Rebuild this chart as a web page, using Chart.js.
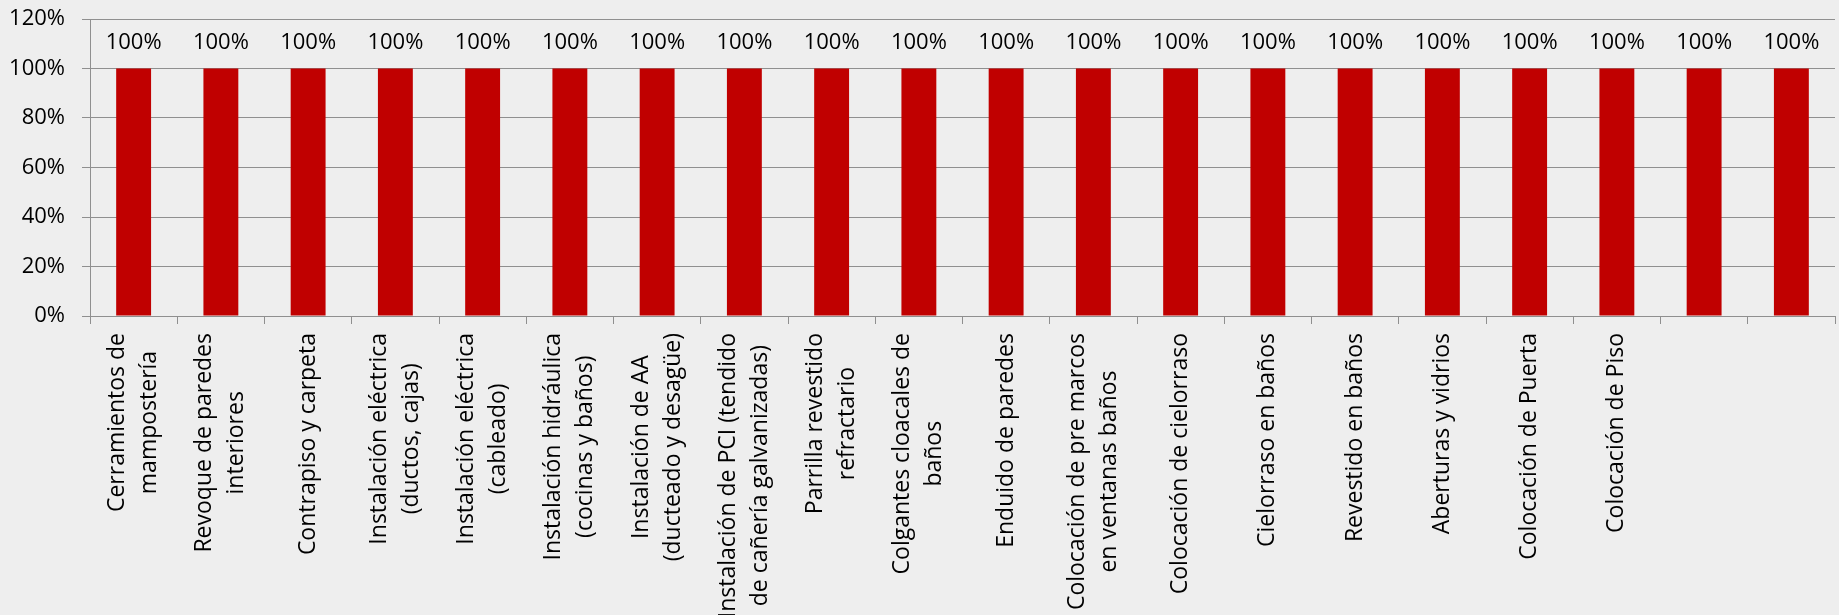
<!DOCTYPE html>
<html>
<head>
<meta charset="utf-8">
<script src="https://cdn.jsdelivr.net/npm/chart.js@4/dist/chart.umd.min.js"></script>
<style>
  html, body { margin: 0; padding: 0; background: #EEEEEE; }
  #wrap { width: 1839px; height: 615px; }
  canvas { display: block; background: #EEEEEE; }
</style>
</head>
<body>
<div id="wrap"><canvas id="c" width="1839" height="615"></canvas></div>
<script>
const categories = [
  ["Cerramientos de", "mampostería"],
  ["Revoque de paredes", "interiores"],
  ["Contrapiso y carpeta"],
  ["Instalación eléctrica", "(ductos, cajas)"],
  ["Instalación eléctrica", "(cableado)"],
  ["Instalación hidráulica", "(cocinas y baños)"],
  ["Instalación de AA", "(ducteado y desagüe)"],
  ["Instalación de PCI (tendido", "de cañería galvanizadas)"],
  ["Parrilla revestido", "refractario"],
  ["Colgantes cloacales de", "baños"],
  ["Enduido de paredes"],
  ["Colocación de pre marcos", "en ventanas baños"],
  ["Colocación de cielorraso"],
  ["Cielorraso en baños"],
  ["Revestido en baños"],
  ["Aberturas y vidrios"],
  ["Colocación de Puerta"],
  ["Colocación de Piso"],
  [""],
  [""]
];
const avance = [1, 1, 1, 1, 1, 1, 1, 1, 1, 1, 1, 1, 1, 1, 1, 1, 1, 1, 1, 1];
const yTicks = [0, 0.2, 0.4, 0.6, 0.8, 1.0, 1.2];

const FONT = '"Open Sans", "Liberation Sans", sans-serif';
const GRID = '#8f8f8f';

const pctLabels = {
  id: 'pctLabels',
  afterDatasetsDraw(chart) {
    const ctx = chart.ctx;
    const ds = chart.data.datasets[0];
    const meta = chart.getDatasetMeta(0);
    ctx.save();
    ctx.font = '22px ' + FONT;
    ctx.fillStyle = '#000000';
    ctx.textAlign = 'center';
    ctx.textBaseline = 'middle';
    meta.data.forEach((bar, i) => {
      ctx.fillText(Math.round(ds.data[i] * 100) + '%', bar.x, bar.y - 26);
    });
    ctx.restore();
  }
};

const xLabels = {
  id: 'xLabels',
  afterDraw(chart) {
    const ctx = chart.ctx;
    const xs = chart.scales.x;
    const top = xs.top + 17;
    const lineH = 32;
    ctx.save();
    ctx.font = '23px ' + FONT;
    ctx.fillStyle = '#000000';
    ctx.textAlign = 'center';
    ctx.textBaseline = 'middle';
    categories.forEach((lines, i) => {
      const x = xs.getPixelForTick(i);
      let maxW = 0;
      lines.forEach(l => { maxW = Math.max(maxW, ctx.measureText(l).width); });
      ctx.save();
      ctx.translate(x, top);
      ctx.rotate(-Math.PI / 2);
      const n = lines.length;
      lines.forEach((l, j) => {
        ctx.fillText(l, -maxW / 2, (j - (n - 1) / 2) * lineH);
      });
      ctx.restore();
    });
    ctx.restore();
  }
};

new Chart(document.getElementById('c'), {
  type: 'bar',
  data: {
    labels: categories,
    datasets: [{
      data: avance,
      backgroundColor: '#C00000',
      borderWidth: 0,
      categoryPercentage: 0.8,
      barPercentage: 0.5
    }]
  },
  options: {
    responsive: false,
    animation: false,
    layout: { padding: { top: 19, right: 4, left: 0, bottom: 0 } },
    plugins: { legend: { display: false }, tooltip: { enabled: false } },
    scales: {
      x: {
        afterFit(s) { s.height = 299; s.paddingLeft = 0; s.paddingRight = 0; },
        grid: { display: true, drawOnChartArea: false, offset: true, color: GRID, tickLength: 8, lineWidth: 1 },
        border: { display: true, color: GRID, width: 1 },
        ticks: { autoSkip: false, maxRotation: 90, minRotation: 90, color: 'rgba(0,0,0,0)', font: { size: 21, family: FONT } }
      },
      y: {
        min: 0,
        max: 1.2,
        afterFit(s) { s.width = 90; s.paddingTop = 0; s.paddingBottom = 0; },
        afterBuildTicks(s) { s.ticks = yTicks.map(v => ({ value: v })); },
        grid: { color: GRID, tickLength: 8, lineWidth: 1, drawTicks: true },
        border: { display: true, color: GRID, width: 1 },
        ticks: {
          padding: 17,
          color: '#000000',
          font: { size: 22, family: FONT },
          callback: v => Math.round(v * 100) + '%'
        }
      }
    }
  },
  plugins: [pctLabels, xLabels]
});
</script>
</body>
</html>
